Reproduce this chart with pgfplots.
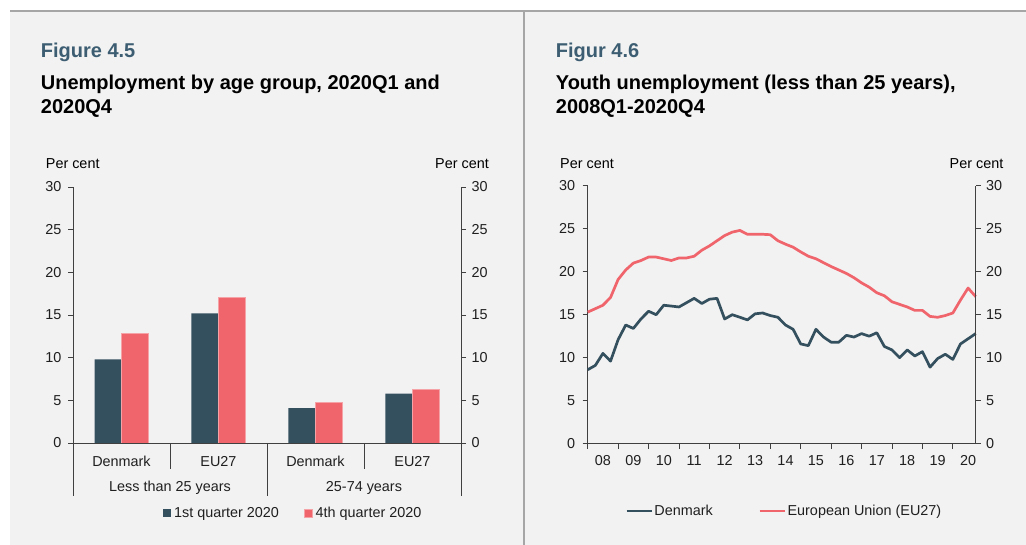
\documentclass[border=0pt]{standalone}
\usepackage{pgfplots}
\pgfplotsset{compat=1.18}
\usepackage{pgfplotstable}
\usepackage{fontspec}
\setmainfont{Liberation Sans}
\definecolor{bgc}{HTML}{F2F2F2}
\definecolor{dk}{HTML}{34505F}
\definecolor{rd}{HTML}{F0646C}
\definecolor{rdedge}{HTML}{F5A3A7}
\definecolor{ttl}{HTML}{3D5E72}
\definecolor{framec}{HTML}{A6A6A6}
\definecolor{axc}{HTML}{404040}
\newcommand{\sm}{\fontsize{14.4}{17}\selectfont}
\newcommand{\tf}{\fontsize{20}{24}\selectfont\bfseries}

\pgfplotstableread{
x q1 q4
0.5 9.8 12.8
1.5 15.2 17.1
2.5 4.1 4.8
3.5 5.8 6.3
}\bars

\pgfplotstableread{
i dk eu
0 8.6 15.3
1 9.1 15.7
2 10.5 16.1
3 9.6 17.0
4 12.1 19.1
5 13.8 20.2
6 13.4 21.0
7 14.5 21.3
8 15.4 21.7
9 15.0 21.7
10 16.1 21.5
11 16.0 21.3
12 15.9 21.6
13 16.4 21.6
14 16.9 21.8
15 16.3 22.5
16 16.8 23.0
17 16.9 23.6
18 14.5 24.2
19 15.0 24.6
20 14.7 24.8
21 14.4 24.35
22 15.1 24.35
23 15.2 24.35
24 14.9 24.3
25 14.7 23.6
26 13.8 23.2
27 13.3 22.85
28 11.6 22.3
29 11.4 21.8
30 13.3 21.5
31 12.4 21.05
32 11.8 20.6
33 11.8 20.2
34 12.6 19.8
35 12.4 19.3
36 12.8 18.7
37 12.5 18.2
38 12.9 17.55
39 11.3 17.2
40 10.9 16.5
41 10.0 16.2
42 10.9 15.9
43 10.2 15.5
44 10.7 15.5
45 8.9 14.8
46 9.9 14.7
47 10.4 14.9
48 9.8 15.2
49 11.6 16.7
50 12.2 18.1
51 12.8 17.1
}\youth

\begin{document}
\begin{tikzpicture}[x=1pt,y=1pt]
\path[use as bounding box] (0pt,0pt) rectangle (1026pt,545pt);
\fill[bgc] (10pt,0pt) rectangle (1026pt,534pt);
\draw[framec, line width=1.2pt] (10pt,534pt) -- (1026pt,534pt);
\draw[framec, line width=1.2pt] (524pt,0pt) -- (524pt,534pt);

% titles
\node[anchor=base west, text=ttl, font=\tf, inner sep=0pt] at (40.7pt,487.5pt) {Figure 4.5};
\node[anchor=base west, font=\tf, inner sep=0pt] at (40.7pt,455pt) {Unemployment by age group, 2020Q1 and};
\node[anchor=base west, font=\tf, inner sep=0pt] at (40.7pt,431pt) {2020Q4};
\node[anchor=base west, text=ttl, font=\tf, inner sep=0pt] at (555.7pt,487.5pt) {Figur 4.6};
\node[anchor=base west, font=\tf, inner sep=0pt] at (555.7pt,455pt) {Youth unemployment (less than 25 years),};
\node[anchor=base west, font=\tf, inner sep=0pt] at (555.7pt,431pt) {2008Q1-2020Q4};

% Per cent labels
\node[anchor=base west, font=\sm, inner sep=0pt] at (45.7pt,376.7pt) {Per cent};
\node[anchor=base east, font=\sm, inner sep=0pt] at (489pt,376.7pt) {Per cent};
\node[anchor=base west, font=\sm, inner sep=0pt] at (560pt,376.7pt) {Per cent};
\node[anchor=base east, font=\sm, inner sep=0pt] at (1003.5pt,376.7pt) {Per cent};

\pgfplotsset{common/.style={scale only axis, width=388pt, tick align=outside,
  major tick length=5pt, axis line style={axc, line width=0.9pt},
  tick style={axc, line width=0.9pt}, ymin=0, ymax=30, ytick={0,5,...,30},
  tick label style={font=\sm, text=black!88},
  /pgf/number format/assume math mode=true, clip=false}}

% ---------- Left chart ----------
\begin{axis}[common, height=256pt, at={(73pt,102pt)}, anchor=south west,
  xmin=0, xmax=4, axis y line*=left, axis x line*=bottom,
  yticklabel style={xshift=-3pt},
  xtick={0.5,1.5,2.5,3.5}, xticklabels={Denmark,EU27,Denmark,EU27},
  x tick style={draw=none}, xticklabel style={yshift=-5pt},
  ybar=0pt, bar width=27pt,
  legend image code/.code={\fill[#1] (0pt,-4pt) rectangle (8pt,4pt);},
  legend style={at={(axis description cs:0.569,-0.275)}, anchor=center,
    draw=none, fill=none, font=\sm, text=black!88, inner sep=0pt,
    nodes={inner sep=3pt},
    /tikz/every even column/.append style={column sep=22pt}},
  legend columns=2]
\addplot[fill=dk, draw=none] table[x=x, y=q1] {\bars};
\addplot[fill=rd, draw=rdedge, line width=0.7pt] table[x=x, y=q4] {\bars};
\legend{1st quarter 2020, 4th quarter 2020}
\draw[axc, line width=0.9pt] ([xshift=-4pt]axis cs:0,0) -- ([xshift=2pt]axis cs:4,0);
\draw[axc, line width=0.9pt] (axis cs:1,0) -- ++(0pt,-26pt);
\draw[axc, line width=0.9pt] (axis cs:3,0) -- ++(0pt,-26pt);
\draw[axc, line width=0.9pt] (axis cs:0,0) -- ++(0pt,-53pt);
\draw[axc, line width=0.9pt] (axis cs:2,0) -- ++(0pt,-53pt);
\draw[axc, line width=0.9pt] (axis cs:4,0) -- ++(0pt,-53pt);
\node[anchor=base, font=\sm, text=black!88, inner sep=0pt] at ([yshift=-48.5pt]axis cs:1,0) {Less than 25 years};
\node[anchor=base, font=\sm, text=black!88, inner sep=0pt] at ([yshift=-48.5pt]axis cs:3,0) {25-74 years};
\end{axis}
\begin{axis}[common, height=256pt, at={(73pt,102pt)}, anchor=south west,
  xmin=0, xmax=4, axis y line*=right, axis x line=none,
  yticklabel style={xshift=2pt}]
\end{axis}

% ---------- Right chart ----------
\begin{axis}[common, height=258pt, at={(587.7pt,101.3pt)}, anchor=south west,
  xmin=0, xmax=51, axis y line*=left, axis x line*=bottom,
  yticklabel style={xshift=-4pt},
  xtick={0,4,...,48}, xticklabels={},
  extra x ticks={2,6,...,50},
  extra x tick labels={08,09,10,11,12,13,14,15,16,17,18,19,20},
  extra x tick style={major tick length=0pt, xticklabel style={yshift=-8pt}},
  legend image code/.code={\draw[#1] (0pt,0pt) -- (25pt,0pt);},
  legend style={at={(axis description cs:0.506,-0.261)}, anchor=center,
    draw=none, fill=none, font=\sm, text=black!88, inner sep=0pt,
    nodes={inner sep=1.5pt},
    /tikz/every even column/.append style={column sep=44pt}},
  legend columns=2]
\addplot[dk, line width=2.7pt, line join=round, mark=none] table[x=i, y=dk] {\youth};
\addplot[rd, line width=2.7pt, line join=round, mark=none] table[x=i, y=eu] {\youth};
\legend{Denmark, European Union (EU27)}
\end{axis}
\begin{axis}[common, height=258pt, at={(587.7pt,101.3pt)}, anchor=south west,
  xmin=0, xmax=51, axis y line*=right, axis x line=none,
  yticklabel style={xshift=2pt}]
\end{axis}
\end{tikzpicture}
\end{document}
